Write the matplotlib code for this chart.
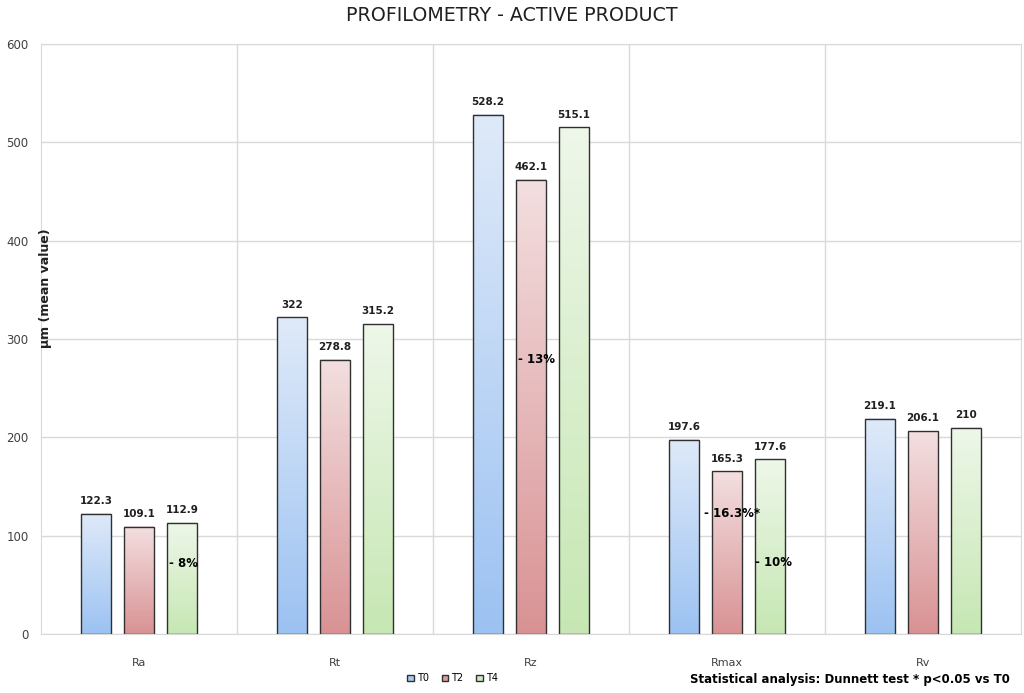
import numpy as np
import matplotlib
matplotlib.use('Agg')
import matplotlib.pyplot as plt
from matplotlib.colors import LinearSegmentedColormap
from matplotlib.patches import Patch

# data
categories = ['Ra', 'Rt', 'Rz', 'Rmax', 'Rv']
series = ['T0', 'T2', 'T4']
t0_vals = [122.3, 322, 528.2, 197.6, 219.1]
t2_vals = [109.1, 278.8, 462.1, 165.3, 206.1]
t4_vals = [112.9, 315.2, 515.1, 177.6, 210]
value_labels = {
    'T0': ['122.3', '322', '528.2', '197.6', '219.1'],
    'T2': ['109.1', '278.8', '462.1', '165.3', '206.1'],
    'T4': ['112.9', '315.2', '515.1', '177.6', '210'],
}
# variation notes: (category index, series, text)
notes = [(0, 'T4', '- 8%'), (2, 'T2', '- 13%'),
         (3, 'T2', '- 16.3%*'), (3, 'T4', '- 10%')]
# where the notes sit (y in data units, x shift from bar left edge)
note_y = [72, 279, 123, 73]
note_dx = [0.01, 0.01, -0.04, 0.0]

# gradient top/bottom colours per series
grad = {'T0': ('#dfeaf9', '#9cc2f2'),
        'T2': ('#f3dfe0', '#d99294'),
        'T4': ('#eef7e9', '#c6e7b3')}
legend_col = {'T0': '#a9c8ef', 'T2': '#d9a0a2', 'T4': '#cfe9c2'}

vals = {'T0': t0_vals, 'T2': t2_vals, 'T4': t4_vals}

fig = plt.figure(figsize=(10.24, 6.93), dpi=100)
ax = fig.add_axes([0.040, 0.0851, 0.957, 0.8514])

x = np.arange(len(categories))
width = 0.153
offsets = [-0.22, 0.0, 0.22]

gridc = '#d9d9d9'
for s in ax.spines.values():
    s.set_color(gridc)
ax.set_yticks(np.arange(0, 601, 100))
ax.yaxis.grid(True, color=gridc, linewidth=1)
for b in np.arange(0.5, len(categories) - 0.5, 1):
    ax.axvline(b, color=gridc, linewidth=1, zorder=0)
ax.set_axisbelow(True)
ax.set_xticks(x)
ax.set_xticklabels(categories, fontsize=8, color='#404040')
ax.tick_params(axis='both', length=0)
ax.tick_params(axis='y', labelsize=8.5, colors='#404040', pad=9)
ax.tick_params(axis='x', pad=17)

grad_arr = np.linspace(0, 1, 256).reshape(-1, 1)
for off, sname in zip(offsets, series):
    cmap = LinearSegmentedColormap.from_list(sname, [grad[sname][1], grad[sname][0]])
    bars = ax.bar(x + off, vals[sname], width, facecolor='none',
                  edgecolor='#303030', linewidth=1, zorder=3)
    for i, bar in enumerate(bars):
        x0, h = bar.get_x(), bar.get_height()
        ax.imshow(grad_arr, cmap=cmap, aspect='auto', origin='lower',
                  extent=[x0, x0 + width, 0, h], zorder=2)
        ax.text(x0 + width / 2, h + 8, value_labels[sname][i], ha='center',
                va='bottom', fontsize=7.5, fontweight='bold', color='#202020')

for (ci, sname, txt), yv, dx in zip(notes, note_y, note_dx):
    xo = offsets[series.index(sname)]
    ax.text(ci + xo - width / 2 + dx, yv, txt, ha='left', va='center',
            fontsize=8.5, fontweight='bold', color='black', zorder=5)

ax.set_xlim(-0.5, len(categories) - 0.5)
ax.set_ylim(0, 600)

fig.text(0.5, 0.978, 'PROFILOMETRY - ACTIVE PRODUCT', ha='center', va='center',
         fontsize=13.7, color='#202020')
fig.text(0.044, 1 - 288 / 693, 'µm (mean value)', rotation=90, ha='center',
         va='center', fontsize=9, fontweight='bold', color='#202020')

handles = [Patch(facecolor=legend_col[s], edgecolor='#303030', label=s) for s in series]
fig.legend(handles=handles, loc='center', bbox_to_anchor=(0.442, 0.021), ncol=3,
           frameon=False, fontsize=7, handlelength=0.7, handleheight=0.7,
           handletextpad=0.3, columnspacing=1.3)
fig.text(0.986, 0.019, 'Statistical analysis: Dunnett test * p<0.05 vs T0',
         ha='right', va='center', fontsize=8.5, fontweight='bold', color='black')

fig.savefig('out.png', dpi=100)
